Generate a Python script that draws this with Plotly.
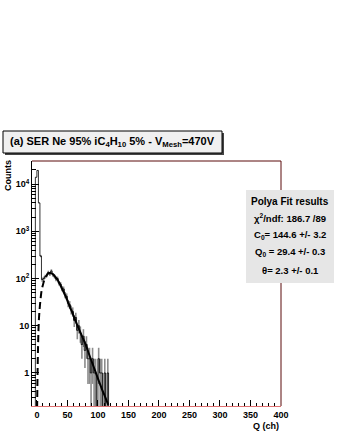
import numpy as np
import plotly.graph_objects as go

# ---------------- data ----------------
bin_width = 2.5
bin_low_edge = -10.0
# counts per bin (bins of 2.5 ch starting at -10 ch); bins above 120 ch are empty
counts = [0, 0, 0, 14000, 19500, 4000, 300, 95, 100, 110, 118, 135, 125, 145, 120,
          112, 98, 100, 80, 76, 62, 60, 45, 42, 30, 28, 22, 20, 13, 15, 8, 10, 7, 4,
          6, 3, 4, 2, 2, 1, 2, 1, 1, 0, 2, 1, 1, 0, 1, 0, 1, 0]

# Polya fit curve: dashed outside fit range, solid inside
fit_dash_q = [0.4, 1, 1.5, 2, 2.6, 3.5, 5, 6.5, 8, 10, 12, 15]
fit_dash_v = [0.18, 0.8, 2.0, 4.0, 8, 15, 27, 42, 58, 74, 92, 110]
fit_solid_q = [15, 18, 21, 24, 27, 30, 34, 38, 42, 46, 50, 54, 58, 62.5, 67, 71, 75,
               79, 83, 87, 91, 95, 99, 103, 107, 111.5, 117]
fit_solid_v = [110, 126, 131, 129, 122, 110, 93, 75, 58, 45, 34, 25, 19, 13.5, 9.7,
               7.4, 5.6, 4.3, 3.1, 2.2, 1.6, 1.15, 0.83, 0.6, 0.44, 0.32, 0.21]

x_tickvals = [0, 50, 100, 150, 200, 250, 300, 350, 400]
y_tickvals = [1, 10, 100, 1000, 10000]
y_ticktext = ["1", "10", "10<sup>2</sup>", "10<sup>3</sup>", "10<sup>4</sup>"]

title_text = "(a) SER Ne 95% iC<sub>4</sub>H<sub>10</sub> 5% - V<sub>Mesh</sub>=470V"
stats_lines = ["Polya Fit results",
               "χ<sup>2</sup>/ndf: 186.7 /89",
               "C<sub>0</sub>= 144.6 +/- 3.2",
               "Q<sub>0</sub> = 29.4 +/- 0.3",
               "θ= 2.3 +/- 0.1"]

# ---------------- derived ----------------
counts = np.array(counts, dtype=float)
n = len(counts)
centers = bin_low_edge + bin_width * (np.arange(n) + 0.5)
edges = bin_low_edge + bin_width * np.arange(n + 1)
FLOOR = 1e-2  # below axis range: empty bins drawn off the bottom
step_y = np.where(counts > 0, counts, FLOOR)
step_y = np.append(step_y, FLOOR)

err_y = [c if c > 0 else None for c in counts]
err_up = np.sqrt(counts)
err_dn = np.array([min(np.sqrt(c), c - FLOOR) if c > 0 else 0 for c in counts])

FONT = "Liberation Sans"
W, H = 338, 437
L, R, T, B = 32, 57, 161, 31


def px(x):
    return (x - L) / (W - L - R)


def py(y):
    return (H - B - y) / (H - T - B)


fig = go.Figure()

fig.add_trace(go.Scatter(
    x=centers, y=err_y, mode="markers",
    marker=dict(size=1, color="rgba(0,0,0,0)"),
    error_y=dict(type="data", array=err_up, arrayminus=err_dn,
                 color="#8c8c8c", thickness=1.6, width=0),
    hoverinfo="skip", showlegend=False))

fig.add_trace(go.Scatter(
    x=edges, y=step_y, mode="lines", line=dict(color="black", width=0.8, shape="hv"),
    hoverinfo="skip", showlegend=False))

fig.add_trace(go.Scatter(
    x=fit_dash_q, y=fit_dash_v, mode="lines",
    line=dict(color="black", width=2, dash="7px,4px", shape="spline"),
    hoverinfo="skip", showlegend=False))

fig.add_trace(go.Scatter(
    x=fit_solid_q, y=fit_solid_v, mode="lines",
    line=dict(color="black", width=2, shape="spline"),
    hoverinfo="skip", showlegend=False))

tickfont = dict(family=FONT, size=9, color="black", weight="bold")

fig.update_xaxes(
    range=[-8, 400], showgrid=False, zeroline=False,
    showline=True, linecolor="#e07070", linewidth=1,
    ticks="inside", ticklen=6, tickcolor="black", tickwidth=1,
    tickvals=x_tickvals, tickfont=tickfont,
    minor=dict(ticks="inside", ticklen=3, dtick=10, tick0=0, tickcolor="black"),
)
fig.update_yaxes(
    type="log", range=[-0.70, 4.49], showgrid=False, zeroline=False,
    showline=True, linecolor="black", linewidth=1,
    ticks="inside", ticklen=7, tickcolor="black",
    tickvals=y_tickvals, ticktext=y_ticktext, tickfont=tickfont,
    minor=dict(ticks="inside", ticklen=4, dtick="D1", tickcolor="black"),
)

shapes = [
    # top and right frame lines
    dict(type="line", xref="paper", yref="paper", x0=0, x1=1, y0=1, y1=1,
         line=dict(color="#5a0a0a", width=1)),
    dict(type="line", xref="paper", yref="paper", x0=1, x1=1, y0=0, y1=1,
         line=dict(color="#5a0a0a", width=1)),
    # title box shadow + box
    dict(type="rect", xref="paper", yref="paper", x0=px(5), x1=px(224), y0=py(155), y1=py(133),
         fillcolor="#444444", line=dict(width=0), layer="above"),
    dict(type="rect", xref="paper", yref="paper", x0=px(3), x1=px(222), y0=py(153), y1=py(131),
         fillcolor="#f0f0f0", line=dict(color="black", width=1), layer="above"),
    # stats box
    dict(type="rect", xref="paper", yref="paper", x0=px(246), x1=px(334), y0=py(283), y1=py(190),
         fillcolor="#e6e6e6", line=dict(width=0), layer="above"),
]

annotations = [
    dict(text="<b>" + title_text + "</b>", x=px(112), y=py(142), xref="paper", yref="paper",
         showarrow=False, xanchor="center", yanchor="middle",
         font=dict(family=FONT, size=11, color="black")),
    dict(text="<b>Counts</b>", x=px(8), y=py(176), xref="paper", yref="paper",
         showarrow=False, textangle=-90, xanchor="center", yanchor="middle",
         font=dict(family=FONT, size=9, color="black")),
    dict(text="<b>Q (ch)</b>", x=px(266), y=py(426), xref="paper", yref="paper",
         showarrow=False, xanchor="center", yanchor="middle",
         font=dict(family=FONT, size=9, color="black")),
]
stats_y = [201, 218, 235, 252, 270]
for i, (txt, yy) in enumerate(zip(stats_lines, stats_y)):
    annotations.append(dict(
        text="<b>" + txt + "</b>", x=px(290), y=py(yy),
        xref="paper", yref="paper", showarrow=False, xanchor="center", yanchor="middle",
        font=dict(family=FONT, size=10 if i == 0 else 9.5, color="black")))

fig.update_layout(
    width=W, height=H, autosize=False,
    margin=dict(l=L, r=R, t=T, b=B),
    paper_bgcolor="white", plot_bgcolor="white",
    shapes=shapes, annotations=annotations, showlegend=False,
)

fig.write_html("out.html", config={"displayModeBar": False},
               post_script="document.body.style.margin='0';document.body.style.padding='0';")
